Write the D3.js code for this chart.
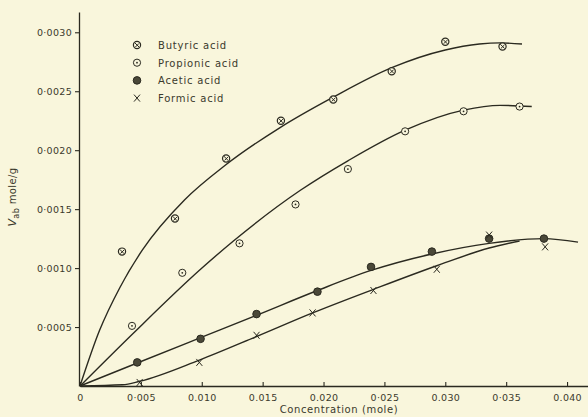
<!DOCTYPE html>
<html><head><meta charset="utf-8">
<script src="https://cdn.jsdelivr.net/npm/d3@7"></script>
<style>
html,body{margin:0;padding:0;background:#f9f6dc;}
svg{display:block;}
text{font-family:"DejaVu Sans",sans-serif;fill:#3b3a2c;}
</style></head><body>
<svg id="c" width="588" height="417"></svg>
<script>
// ---- data ----
const seriesNames = ["Butyric acid", "Propionic acid", "Acetic acid", "Formic acid"];

const butyricX = [0.00345, 0.0078, 0.0120, 0.0165, 0.0208, 0.0256, 0.0300, 0.0347];
const butyricY = [0.00114, 0.00142, 0.00193, 0.00225, 0.00243, 0.00267, 0.00292, 0.00288];
const propionicX = [0.00427, 0.0084, 0.0131, 0.0177, 0.0220, 0.0267, 0.0315, 0.0361];
const propionicY = [0.00051, 0.00096, 0.00121, 0.00154, 0.00184, 0.00216, 0.00233, 0.00237];
const aceticX = [0.0047, 0.0099, 0.0145, 0.0195, 0.0239, 0.0289, 0.0336, 0.0381];
const aceticY = [0.00020, 0.00040, 0.00061, 0.00080, 0.00101, 0.00114, 0.00125, 0.00125];
const formicX = [0.0049, 0.0098, 0.0145, 0.0191, 0.0241, 0.0293, 0.0336, 0.0382];
const formicY = [0.00003, 0.00020, 0.00043, 0.00062, 0.00081, 0.00099, 0.00128, 0.00118];

// hand-drawn fitted curves
const butyricCurveX = [0, 0.0016, 0.0033, 0.0051, 0.0086, 0.0119, 0.0164, 0.0208, 0.0256, 0.0300, 0.0328, 0.0345, 0.0363];
const butyricCurveY = [0, 0.00047, 0.00084, 0.00115, 0.00158, 0.00187, 0.00219, 0.00245, 0.00270, 0.00285, 0.00290, 0.00291, 0.00290];
const propionicCurveX = [0, 0.0044, 0.0099, 0.0126, 0.0181, 0.0220, 0.0267, 0.0315, 0.0345, 0.0371];
const propionicCurveY = [0, 0.00045, 0.00099, 0.00123, 0.00166, 0.00191, 0.00217, 0.00234, 0.00238, 0.00237];
const aceticCurveX = [0, 0.0047, 0.0099, 0.0145, 0.0195, 0.0239, 0.0289, 0.0336, 0.0381, 0.0409];
const aceticCurveY = [0, 0.000195, 0.00041, 0.00060, 0.00081, 0.00098, 0.00112, 0.00121, 0.00125, 0.00122];
const formicCurveX = [0, 0.0035, 0.0049, 0.0098, 0.0145, 0.0191, 0.0241, 0.0293, 0.0336, 0.0361];
const formicCurveY = [0, 0.00001, 0.00004, 0.00022, 0.00042, 0.00062, 0.00082, 0.00102, 0.00117, 0.00123];

const xTickValues = [0, 0.005, 0.010, 0.015, 0.020, 0.025, 0.030, 0.035, 0.040];
const xTickLabels = ["0", "0·005", "0.010", "0.015", "0.020", "0·025", "0.030", "0·035", "0.040"];
const yTickValues = [0.0005, 0.0010, 0.0015, 0.0020, 0.0025, 0.0030];
const yTickLabels = ["0·0005", "0·0010", "0·0015", "0·0020", "0·0025", "0·0030"];

// ---- chart ----
const svg = d3.select("#c");
const ink = "#2b2a20";
const x = d3.scaleLinear().domain([0, 0.04172]).range([80, 588]);
const y = d3.scaleLinear().domain([0, 0.003172]).range([386, 12]);

const xAxis = d3.axisBottom(x).tickValues(xTickValues)
  .tickFormat((d, i) => xTickLabels[i]).tickSize(-4).tickSizeOuter(0).tickPadding(8);
const gx = svg.append("g").attr("transform", "translate(0,386)").call(xAxis);
const yAxis = d3.axisLeft(y).tickValues(yTickValues)
  .tickFormat((d, i) => yTickLabels[i]).tickSize(4).tickSizeOuter(0).tickPadding(3);
const gy = svg.append("g").attr("transform", "translate(79,0)").call(yAxis);
[gx, gy].forEach(g => {
  g.select(".domain").attr("stroke", ink).attr("stroke-width", 1.3);
  g.selectAll(".tick line").attr("stroke", ink).attr("stroke-width", 1.1);
  g.selectAll(".tick text").attr("fill", "#3b3a2c").style("font-size", "9.5px")
    .style("font-family", "'DejaVu Sans', sans-serif").style("letter-spacing", "0.3px");
});

svg.append("text").attr("x", 339).attr("y", 413).attr("text-anchor", "middle")
  .style("font-size", "10px").style("letter-spacing", "0.6px").text("Concentration (mole)");

const yl = svg.append("text").attr("transform", "translate(16,197) rotate(-90)")
  .attr("text-anchor", "middle").style("font-size", "10px").style("letter-spacing", "0.4px");
yl.append("tspan").style("font-style", "italic").style("font-size", "11px").text("V");
yl.append("tspan").attr("dy", 3).style("font-size", "8px").text("ab");
yl.append("tspan").attr("dy", -3).text(" mole/g");

// curves
const line = d3.line().x(d => x(d[0])).y(d => y(d[1])).curve(d3.curveMonotoneX);
const curves = [
  [butyricCurveX, butyricCurveY],
  [propionicCurveX, propionicCurveY],
  [aceticCurveX, aceticCurveY],
  [formicCurveX, formicCurveY]
];
curves.forEach(([cx, cy]) => {
  svg.append("path").datum(cx.map((v, i) => [v, cy[i]]))
    .attr("d", line).attr("fill", "none").attr("stroke", ink).attr("stroke-width", 1.4);
});

// markers
function marker(g, type, px, py) {
  if (type === 0) {
    g.append("circle").attr("cx", px).attr("cy", py).attr("r", 3.6)
      .attr("fill", "#f9f6dc").attr("stroke", ink).attr("stroke-width", 1.2);
    g.append("path").attr("d", `M${px - 2.2},${py - 2.2}L${px + 2.2},${py + 2.2}M${px + 2},${py - 1.6}L${px - 1.6},${py + 2}`)
      .attr("stroke", ink).attr("stroke-width", 1);
  } else if (type === 1) {
    g.append("circle").attr("cx", px).attr("cy", py).attr("r", 3.6)
      .attr("fill", "#f9f6dc").attr("stroke", ink).attr("stroke-width", 1);
    g.append("circle").attr("cx", px).attr("cy", py).attr("r", 0.9).attr("fill", ink);
  } else if (type === 2) {
    g.append("circle").attr("cx", px).attr("cy", py).attr("r", 3.8)
      .attr("fill", "#4a4838").attr("stroke", ink).attr("stroke-width", 1);
  } else {
    g.append("path").attr("d", `M${px - 3},${py - 3.5}L${px + 3},${py + 3.5}M${px + 3},${py - 3.5}L${px - 3},${py + 3.5}`)
      .attr("stroke", ink).attr("stroke-width", 1);
  }
}
const pts = [[butyricX, butyricY], [propionicX, propionicY], [aceticX, aceticY], [formicX, formicY]];
const gm = svg.append("g");
pts.forEach(([px, py], t) => px.forEach((v, i) => marker(gm, t, x(v), y(py[i]))));

// legend
const lg = svg.append("g");
seriesNames.forEach((name, i) => {
  const ly = 45 + i * 17.7;
  marker(lg, i, 137, ly);
  lg.append("text").attr("x", 158).attr("y", ly + 3.8).style("font-size", "10px")
    .style("letter-spacing", "0.8px").text(name);
});
</script>
</body></html>
